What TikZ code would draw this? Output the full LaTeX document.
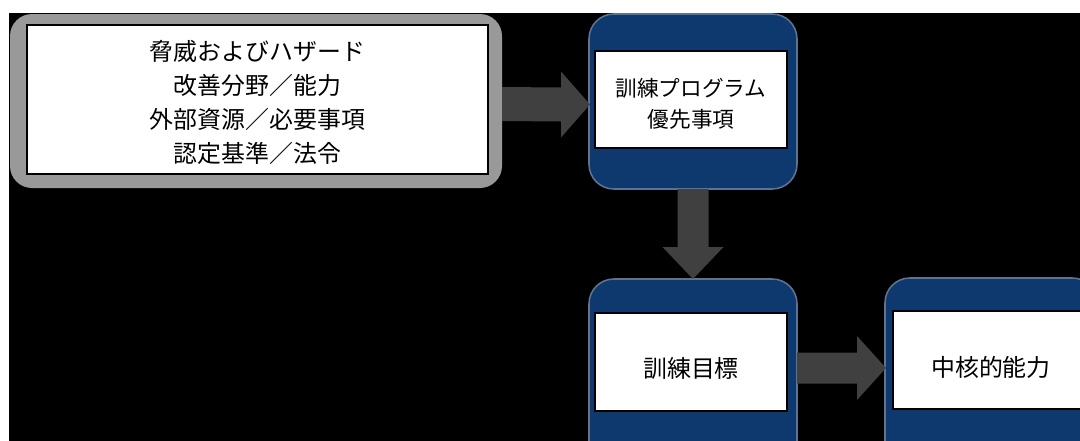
\documentclass[tikz,border=0pt]{standalone}
\usepackage{fontspec}
\newfontfamily\jp{Noto Sans CJK JP}
\usetikzlibrary{calc,fit}
\definecolor{navy}{RGB}{14,57,110}
\definecolor{navyedge}{RGB}{95,115,145}
\definecolor{boxgray}{RGB}{153,153,153}
\definecolor{arrowgray}{RGB}{64,64,64}
\tikzset{
  graybox/.style={inner sep=0pt, outer sep=0pt, rounded corners=0.55cm, fill=boxgray},
  bluebox/.style={inner sep=0pt, outer sep=0pt, rounded corners=0.62cm, fill=navy, draw=navyedge, line width=1.1pt},
  whitebox/.style={inner sep=0pt, outer sep=0pt, fill=white, draw=black, line width=0.9pt},
  label/.style={inner sep=0pt, align=center, text=black, anchor=center},
  arrowfill/.style={fill=arrowgray},
  bigtxt/.style={font=\jp\fontsize{17}{24.2}\selectfont},
  midtxt/.style={font=\jp\fontsize{15.4}{22}\selectfont}
}
\newcommand{\hblockarrow}[5]{%
  \fill[arrowfill] ($(#1)+(0,-#3)$) -- ($(#2)+(-#5,-#3)$) -- ($(#2)+(-#5,-#4)$) -- (#2)
    -- ($(#2)+(-#5,#4)$) -- ($(#2)+(-#5,#3)$) -- ($(#1)+(0,#3)$) -- cycle;}
\newcommand{\vblockarrow}[5]{%
  \fill[arrowfill] ($(#1)+(-#3,0)$) -- ($(#2)+(-#3,-#5)$) -- ($(#2)+(-#4,-#5)$) -- (#2)
    -- ($(#2)+(#4,-#5)$) -- ($(#2)+(#3,-#5)$) -- ($(#1)+(#3,0)$) -- cycle;}
\begin{document}
\begin{tikzpicture}[x=0.025cm,y=-0.025cm]
\fill[white] (0,0) rectangle (1080,441);
\useasboundingbox (0,0) rectangle (1080,441);
\fill[black] (9,13) rectangle (1080,441);
\clip (9,13) rectangle (1080,441);

% source box
\node[graybox, fit={(10,14) (502,188)}] (src) {};
\node[whitebox, fit={(27,25) (488,174)}] (srcw) {};
\node[label, bigtxt] (srct) at ($(srcw.center)+(0,3)$) {脅威およびハザード\\改善分野／能力\\外部資源／必要事項\\認定基準／法令};

% priorities
\node[bluebox, fit={(589,14) (797,189)}] (pri) {};
\node[whitebox, fit={(595,51) (787,148)}] (priw) {};
\node[label, midtxt] (prit) at ($(priw.center)+(0,4)$) {訓練プログラム\\優先事項};

% objectives
\node[bluebox, fit={(589,279) (797,470)}] (obj) {};
\node[whitebox, fit={(595,313) (787,411)}] (objw) {};
\node[label, bigtxt] (objt) at ($(objw.center)+(0,6)$) {訓練目標};

% core capabilities
\node[bluebox, fit={(885,278) (1097,470)}] (core) {};
\node[whitebox, fit={(893,311) (1089,409)}] (corew) {};
\node[label, bigtxt] (coret) at ($(corew.center)+(0,7)$) {中核的能力};

% arrows
\coordinate (a1s) at ($(src.east)+(0,3)$);
\coordinate (a1t) at ($(pri.west)+(1,3)$);
\hblockarrow{a1s}{a1t}{17}{33}{29}

\coordinate (a2s) at (pri.south);
\coordinate (a2t) at (obj.north);
\vblockarrow{a2s}{a2t}{15.5}{30.5}{32}

\coordinate (a3s) at ($(obj.east |- objw.center)+(0,6)$);
\coordinate (a3t) at ($(core.west |- objw.center)+(1,6)$);
\hblockarrow{a3s}{a3t}{15.5}{32}{29}
\end{tikzpicture}
\end{document}
